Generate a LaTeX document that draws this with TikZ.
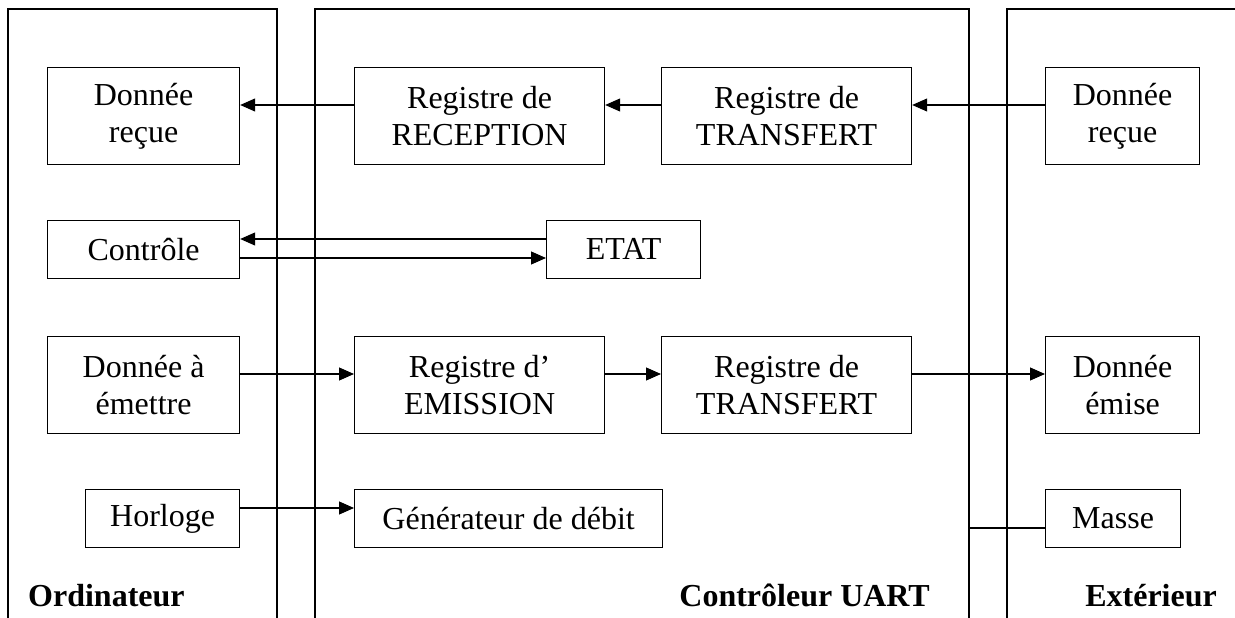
\documentclass[tikz,border=0pt]{standalone}
\usepackage{fontspec}
\setmainfont{Liberation Serif}
\usetikzlibrary{arrows.meta}
\begin{document}
\begin{tikzpicture}[x=1pt,y=-1pt,
  box/.style={draw, line width=1.2pt, align=center, inner sep=0pt, anchor=north west,
              font=\fontsize{32}{37}\selectfont},
  tall/.style={minimum height=97pt},
  flat/.style={minimum height=57.5pt},
  wire/.style={line width=1.1pt},
  arr/.style={wire, -{Triangle[length=15pt,width=13pt]}},
  panel/.style={line width=1.1pt},
  title/.style={font=\fontsize{32}{37}\selectfont\bfseries, inner sep=0pt}]
\useasboundingbox (0,0) rectangle (1235,618);

% the three zones, open at the bottom
\draw[panel] (8,618) |- (277,9) -- (277,618);
\draw[panel] (315,618) |- (969,9) -- (969,618);
\draw[panel] (1007,618) |- (1235,9);

% reception row
\node[box, tall, minimum width=192pt] (drL) at (47,67) {Donnée\\reçue};
\node[box, tall, minimum width=250pt] (rec) at (354,67) {Registre de\\RECEPTION};
\node[box, tall, minimum width=250pt] (trR) at (661,67) {Registre de\\TRANSFERT};
\node[box, tall, minimum width=154pt] (drR) at (1045,67) {Donnée\\reçue};

% control / status row
\node[box, flat, minimum width=192pt] (ctl) at (47,220) {Contrôle};
\node[box, flat, minimum width=154pt] (etat) at (546,220) {ETAT};

% emission row
\node[box, tall, minimum width=192pt] (dae) at (47,336) {Donnée à\\émettre};
\node[box, tall, minimum width=250pt] (emi) at (354,336) {Registre d’\\EMISSION};
\node[box, tall, minimum width=250pt] (trE) at (661,336) {Registre de\\TRANSFERT};
\node[box, tall, minimum width=154pt] (dem) at (1045,336) {Donnée\\émise};

% clock / ground row
\node[box, flat, minimum width=154pt] (hor) at (85,489) {Horloge};
\node[box, flat, minimum width=308pt] (gen) at (354,489) {Générateur de débit};
\node[box, flat, minimum width=135pt] (mas) at (1045,489) {Masse};

% heights of the connectors
\coordinate (r1) at (0,105);
\coordinate (c1) at (0,239);
\coordinate (c2) at (0,258);
\coordinate (r3) at (0,374);
\coordinate (r4) at (0,508);
\coordinate (gnd) at (969,528);

\draw[arr] (rec.west|-r1) -- (drL.east|-r1);
\draw[arr] (trR.west|-r1) -- (rec.east|-r1);
\draw[arr] (drR.west|-r1) -- (trR.east|-r1);

\draw[arr] (etat.west|-c1) -- (ctl.east|-c1);
\draw[arr] (ctl.east|-c2) -- (etat.west|-c2);

\draw[arr] (dae.east|-r3) -- (emi.west|-r3);
\draw[arr] (emi.east|-r3) -- (trE.west|-r3);
\draw[arr] (trE.east|-r3) -- (dem.west|-r3);

\draw[arr] (hor.east|-r4) -- (gen.west|-r4);
\draw[wire] (gnd) -- (mas.west|-gnd);

% zone titles
\node[title, anchor=base west] (lo) at (28,606) {Ordinateur};
\node[title, anchor=base east] (lc) at (930,606) {Contrôleur UART};
\node[title, anchor=base east] (le) at (1217,606) {Extérieur};
\end{tikzpicture}
\end{document}
